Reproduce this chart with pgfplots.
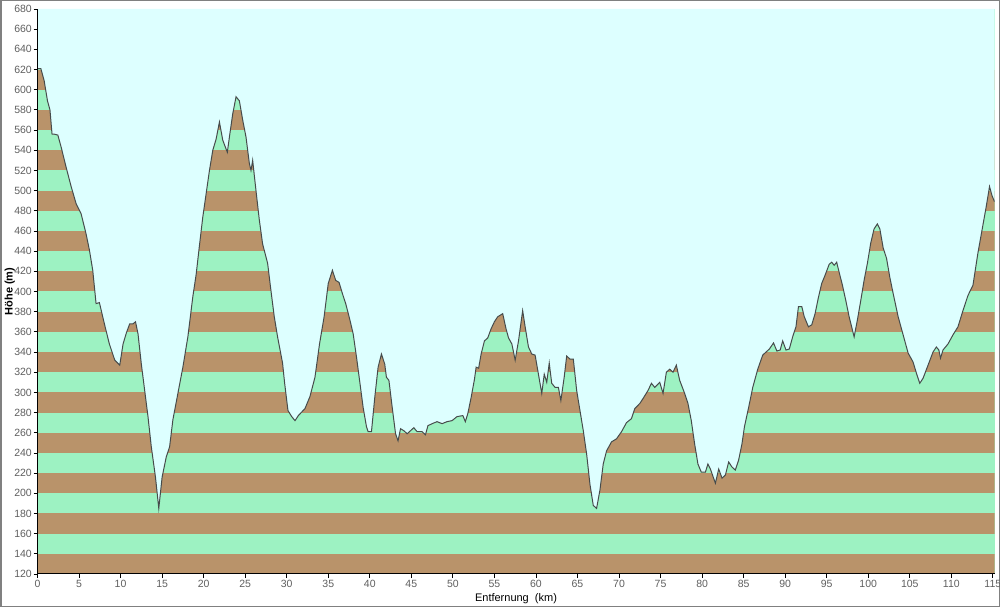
\documentclass[border=0pt]{standalone}
\usepackage{fontspec}
\setmainfont{Liberation Sans}
\usepackage{pgfplots}
\usepackage{pgfplotstable}
\pgfplotsset{compat=1.18}
\definecolor{bgcyan}{RGB}{221,255,255}
\definecolor{bandbrown}{RGB}{185,147,106}
\definecolor{bandgreen}{RGB}{157,242,194}
\definecolor{outline}{RGB}{70,75,75}
\definecolor{ticklab}{RGB}{95,95,95}

\pgfplotstableread{
km h
0.0 621
0.4 621
0.8 609
1.2 589
1.5 580
1.75 556
2.0 556
2.45 555
2.85 543
3.45 523
4.05 504
4.65 487
5.25 477
5.85 457
6.25 441
6.65 421
7.05 388
7.45 389
8.05 368
8.65 348
9.3 332
9.9 327
10.3 348
10.7 359
11.1 368
11.5 368
11.8 370
12.1 358
12.5 328
12.9 302
13.3 276
13.7 246
14.2 216
14.6 185
15.0 216
15.5 236
15.9 246
16.3 273
16.9 299
17.5 325
18.1 355
18.7 395
19.1 417
19.5 446
19.9 474
20.3 497
20.7 520
21.1 540
21.5 551
21.9 568
22.3 550
22.85 538
23.1 553
23.5 576
23.9 593
24.3 589
24.7 570
25.1 553
25.5 527
25.7 520
25.9 530
26.3 500
26.7 471
27.1 447
27.7 428
28.1 401
28.5 375
28.9 355
29.5 329
29.75 309
30.15 282
30.6 276
31.0 272
31.4 277
32.2 284
32.8 296
33.4 315
33.95 348
34.5 375
35.0 408
35.5 421
35.9 411
36.3 409
36.7 398
37.1 388
37.6 372
38.0 358
38.4 335
38.8 310
39.2 285
39.6 266
39.8 261
40.2 261
40.6 295
41.0 325
41.4 338
41.8 328
42.0 315
42.3 312
42.7 285
43.1 259
43.4 252
43.7 264
44.1 262
44.5 259
44.9 262
45.3 265
45.7 261
46.3 261
46.7 258
47.0 267
47.5 269
48.1 271
48.7 269
49.3 271
49.9 272
50.5 276
51.2 277
51.5 271
51.8 279
52.2 295
52.6 313
52.8 325
53.1 324
53.4 338
53.8 351
54.2 354
54.6 363
55.0 370
55.4 375
56.0 378
56.4 363
56.7 354
57.1 348
57.5 332
57.9 351
58.4 381
58.7 365
59.1 345
59.5 338
59.9 337
60.3 318
60.7 299
61.0 318
61.3 310
61.6 329
61.9 309
62.3 305
62.7 305
63.0 292
63.4 315
63.7 336
64.1 333
64.5 333
64.9 302
65.3 282
65.7 262
66.1 239
66.5 209
66.9 188
67.3 185
67.7 203
68.1 229
68.5 242
69.1 251
69.7 254
70.3 261
70.9 270
71.5 274
71.9 284
72.5 289
72.9 294
73.5 302
73.9 309
74.3 305
74.9 310
75.3 299
75.7 320
76.1 323
76.5 320
76.9 327
77.3 312
77.9 299
78.3 289
78.7 272
79.1 249
79.5 229
79.9 221
80.4 221
80.7 229
81.0 224
81.6 210
82.0 224
82.4 215
82.8 218
83.2 231
83.6 226
84.0 223
84.4 233
84.8 249
85.1 266
85.6 285
86.1 305
86.7 323
87.3 337
87.7 340
88.1 343
88.6 349
89.0 341
89.4 342
89.7 351
90.1 342
90.5 343
90.9 355
91.3 365
91.6 385
92.0 385
92.3 375
92.8 365
93.2 367
93.6 378
94.0 394
94.4 408
94.8 416
95.3 427
95.6 429
95.9 426
96.2 429
96.5 419
96.9 406
97.3 391
97.7 375
98.3 355
98.7 372
99.1 391
99.5 411
99.9 428
100.3 448
100.7 462
101.1 467
101.4 462
101.8 443
102.2 433
102.6 414
103.0 398
103.6 375
104.2 357
104.8 339
105.4 330
105.8 319
106.2 309
106.6 314
107.2 327
107.8 340
108.2 345
108.5 342
108.7 334
109.0 342
109.6 348
110.2 357
110.8 365
111.4 381
112.0 396
112.6 406
113.2 438
113.7 461
114.2 484
114.6 504
114.9 495
115.2 489
}\profile

\begin{document}
\begin{tikzpicture}
\useasboundingbox (0,0) rectangle (1000pt,607pt);
\draw[gray, line width=1.5pt] (0.75pt,0.75pt) rectangle (999.25pt,606.25pt);
\begin{axis}[
  at={(37.5pt,33pt)}, anchor=south west,
  scale only axis, width=957pt, height=565pt,
  xmin=0, xmax=115.2, ymin=120, ymax=680,
  xtick={0,5,...,115}, ytick={120,140,...,680},
  axis x line*=bottom, axis y line*=left,
  axis line style={black, line width=1pt, -},
  axis on top=true,
  tick align=outside, major tick length=4pt,
  tick style={black, line width=0.8pt},
  ticklabel style={font=\fontsize{10.5}{12}\selectfont, text=ticklab},
  yticklabel style={inner sep=1.5pt},
  xticklabel style={inner sep=2pt},
  /pgf/number format/assume math mode=true,
  axis background/.style={fill=bandgreen},
  ylabel={\textbf{Höhe (m)}},
  xlabel={Entfernung\ \ (km)},
  ylabel style={at={(axis description cs:-0.029,0.5)}, anchor=center, font=\fontsize{11}{13}\selectfont},
  xlabel style={at={(axis description cs:0.5,-0.043)}, anchor=center, font=\fontsize{11}{13}\selectfont},
]
% brown elevation bands (every other 20 m)
\addplot[fill=bandbrown, draw=none] coordinates {(0,120) (115.2,120) (115.2,140) (0,140)} -- cycle;
\addplot[fill=bandbrown, draw=none] coordinates {(0,160) (115.2,160) (115.2,180) (0,180)} -- cycle;
\addplot[fill=bandbrown, draw=none] coordinates {(0,200) (115.2,200) (115.2,220) (0,220)} -- cycle;
\addplot[fill=bandbrown, draw=none] coordinates {(0,240) (115.2,240) (115.2,260) (0,260)} -- cycle;
\addplot[fill=bandbrown, draw=none] coordinates {(0,280) (115.2,280) (115.2,300) (0,300)} -- cycle;
\addplot[fill=bandbrown, draw=none] coordinates {(0,320) (115.2,320) (115.2,340) (0,340)} -- cycle;
\addplot[fill=bandbrown, draw=none] coordinates {(0,360) (115.2,360) (115.2,380) (0,380)} -- cycle;
\addplot[fill=bandbrown, draw=none] coordinates {(0,400) (115.2,400) (115.2,420) (0,420)} -- cycle;
\addplot[fill=bandbrown, draw=none] coordinates {(0,440) (115.2,440) (115.2,460) (0,460)} -- cycle;
\addplot[fill=bandbrown, draw=none] coordinates {(0,480) (115.2,480) (115.2,500) (0,500)} -- cycle;
\addplot[fill=bandbrown, draw=none] coordinates {(0,520) (115.2,520) (115.2,540) (0,540)} -- cycle;
\addplot[fill=bandbrown, draw=none] coordinates {(0,560) (115.2,560) (115.2,580) (0,580)} -- cycle;
\addplot[fill=bandbrown, draw=none] coordinates {(0,600) (115.2,600) (115.2,620) (0,620)} -- cycle;
% sky above the profile
\addplot[fill=bgcyan, draw=none] table[x=km, y=h] {\profile} -- (axis cs:115.2,680) -- (axis cs:0,680) -- cycle;
% profile outline
\addplot[outline, line width=1pt] table[x=km, y=h] {\profile};
\end{axis}
\end{tikzpicture}
\end{document}
